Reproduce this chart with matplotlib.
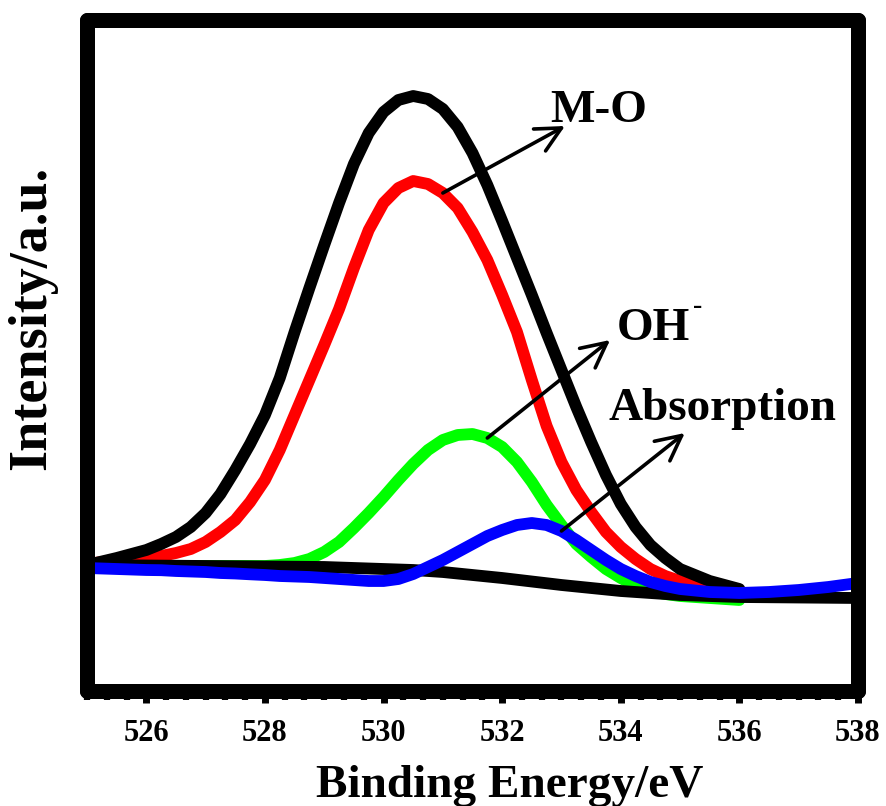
import matplotlib
matplotlib.use("Agg")
import matplotlib.pyplot as plt
from matplotlib.ticker import MultipleLocator, AutoMinorLocator

plt.rcParams['font.family'] = ['Liberation Serif', 'DejaVu Serif']
plt.rcParams['font.weight'] = 'bold'

# binding energy grid (eV)
x_fit = [525, 525.5, 526, 526.25, 526.5, 526.75, 527, 527.25, 527.5, 527.75,
         528, 528.25, 528.5, 528.75, 529, 529.25, 529.5, 529.75, 530, 530.25,
         530.5, 530.75, 531, 531.25, 531.5, 531.75, 532, 532.25, 532.5, 532.75,
         533, 533.25, 533.5, 533.75, 534, 534.25, 534.5, 534.75, 535, 535.25,
         535.5, 535.75, 536]
x_blue = x_fit + [536.5, 537, 537.5, 538]
x_bg = [525, 526, 527, 528, 529, 529.5, 530, 530.5, 531, 531.5, 532, 532.5,
        533, 533.5, 534, 534.5, 535, 535.5, 536, 537, 538]

# intensities (a.u.)
envelope = [125, 132, 140, 146, 153, 163, 177, 196, 220, 246,
            275, 312, 358, 402, 445, 487, 526, 557, 578, 590,
            594, 591, 581, 563, 537, 505, 469, 432, 395, 357,
            320, 283, 248, 215, 186, 163, 145, 132, 121, 115,
            109, 105, 101]
m_o = [126, 130, 132, 134, 137, 141, 148, 158, 170, 188,
       210, 240, 275, 310, 345, 381, 422, 460, 487, 502,
       509, 506, 497, 482, 458, 430, 395, 358, 310, 264,
       228, 200, 178, 158, 143, 131, 121, 114, 109, 106,
       103, 101, 100]
oh = [125, 124.5, 124, 124, 124, 124, 124, 124, 124, 124,
      124, 125, 127, 131, 138, 148, 162, 177, 193, 210,
      226, 240, 250, 255, 256, 252, 243, 228, 208, 185,
      165, 146, 133, 121, 112, 104, 99, 96, 94, 93,
      92, 91, 90]
absorption = [122, 121, 120, 119.8, 119, 118.5, 118, 117, 116.5, 115.7,
              115, 114, 113.5, 113, 112, 111, 110, 109, 109, 111,
              116, 123, 130, 138, 146, 154, 160, 165, 167, 165,
              159, 150, 140, 130, 121, 114, 108, 104, 101, 99.5,
              98, 97.5, 97, 98, 100, 103, 107]
background = [125, 124.5, 124, 123.5, 123, 122, 121, 120, 118, 115, 112, 108.5,
              105, 102, 99, 97, 95, 94, 93, 92.5, 92]

fig = plt.figure(figsize=(8.86, 8.06), dpi=100)
ax = fig.add_axes([87/886, 115/806, 771/886, 671/806])

style = dict(lw=8.5, solid_capstyle='round', solid_joinstyle='round')
ax.plot(x_fit, oh, color='#00ff00', **style)
ax.plot(x_fit, m_o, color='#ff0000', **style)
ax.plot(x_fit, envelope, color='k', **style)
ax.plot(x_bg, background, color='k', **style)
ax.plot(x_blue, absorption, color='#0000ff', **style)

arrow = dict(arrowstyle='->,head_length=0.9,head_width=0.45', lw=2.6, color='k',
             shrinkA=0, shrinkB=0, mutation_scale=20, capstyle='round')
# tails sit on the curves
ax.annotate('', xy=(533.06, 564), xytext=(x_fit[22], m_o[22]), arrowprops=arrow)
ax.annotate('', xy=(533.82, 350), xytext=(x_fit[25], oh[25]), arrowprops=arrow)
ax.annotate('', xy=(535.08, 257), xytext=(x_fit[30], absorption[30]), arrowprops=arrow)

ax.text(532.81, 568, 'M-O', fontsize=34, fontweight='bold')
ax.text(533.94, 350, 'OH', fontsize=34, fontweight='bold')
ax.text(535.22, 377, '-', fontsize=20, fontweight='bold')
ax.text(533.79, 270, 'Absorption', fontsize=34, fontweight='bold')

ax.set_xlim(525, 538)
ax.set_ylim(-1, 670)
ax.xaxis.set_major_locator(MultipleLocator(2))
ax.xaxis.set_minor_locator(AutoMinorLocator(6))
ax.set_xticks([526, 528, 530, 532, 534, 536, 538])
ax.set_yticks([])
ax.tick_params(axis='x', which='major', direction='out', length=8.5, width=5,
               pad=12, labelsize=22)
ax.tick_params(axis='x', which='minor', direction='out', length=6.5, width=4.5)
for sp in ax.spines.values():
    sp.set_linewidth(10.8)
    sp.set_capstyle('round')
    sp.set_joinstyle('round')

fig.text(510/886, 9/806, 'Binding Energy/eV', fontsize=34, fontweight='bold',
         ha='center', va='baseline')
fig.text(32/886, 1 - 318/806, 'Intensity/a.u.', fontsize=39, fontweight='bold',
         ha='center', va='center', rotation=90)

fig.savefig('out.png', dpi=100)
